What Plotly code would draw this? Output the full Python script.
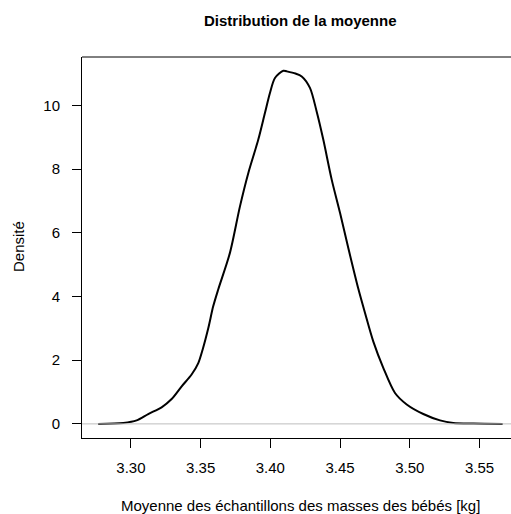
import plotly.graph_objects as go

# Density curve of sample means
mean_x = [3.2765, 3.2945, 3.3041, 3.3124, 3.3220, 3.3292, 3.3364, 3.3435, 3.3483, 3.3514,
          3.3555, 3.3590, 3.3626, 3.3710, 3.3782, 3.3842, 3.3913, 3.3961, 3.3997, 3.4033,
          3.4093, 3.4117, 3.4180, 3.4225, 3.4284, 3.4332, 3.4380, 3.4440, 3.4500, 3.4559,
          3.4631, 3.4679, 3.4738, 3.4810, 3.4894, 3.4978, 3.5097, 3.5217, 3.5312, 3.5456,
          3.5666]
density_y = [0.00, 0.03, 0.11, 0.31, 0.52, 0.78, 1.18, 1.55, 1.91, 2.33,
             3.01, 3.69, 4.22, 5.37, 6.83, 7.88, 8.92, 9.76, 10.39, 10.86,
             11.09, 11.07, 11.00, 10.91, 10.55, 9.81, 8.92, 7.67, 6.62, 5.52,
             4.24, 3.48, 2.59, 1.76, 0.97, 0.61, 0.31, 0.11, 0.03, 0.01,
             0.00]

x_ticks = [3.30, 3.35, 3.40, 3.45, 3.50, 3.55]
x_tick_labels = ["3.30", "3.35", "3.40", "3.45", "3.50", "3.55"]
y_ticks = [0, 2, 4, 6, 8, 10]

title = "Distribution de la moyenne"
x_title = "Moyenne des échantillons des masses des bébés [kg]"
y_title = "Densité"

FONT = "Liberation Sans, Arial, Helvetica, sans-serif"
W, H = 511, 514
L, T, B, R = 82, 57, 76, 0

x_range = [3.2649, 3.5726]
y_range = [-0.443, 11.52]

fig = go.Figure()
fig.add_trace(go.Scatter(x=mean_x, y=density_y, mode="lines",
                         line=dict(color="black", width=2, shape="spline", smoothing=0.8),
                         hoverinfo="skip", showlegend=False))
fig.add_trace(go.Scatter(x=x_range, y=[0, 0], mode="lines",
                         line=dict(color="#bebebe", width=1),
                         hoverinfo="skip", showlegend=False))

fig.update_layout(
    width=W, height=H,
    margin=dict(l=L, r=R, t=T, b=B),
    paper_bgcolor="white", plot_bgcolor="white",
    font=dict(family=FONT, size=15, color="black"),
    xaxis=dict(range=x_range, tickvals=x_ticks, ticktext=x_tick_labels,
               showgrid=False, zeroline=False, showline=True, linecolor="black", linewidth=1,
               ticks="outside", ticklen=9, tickcolor="black", tickwidth=1,
               ticklabelstandoff=7, tickfont=dict(size=15, color="black")),
    yaxis=dict(range=y_range, tickvals=y_ticks,
               showgrid=False, zeroline=False, showline=True, linecolor="black", linewidth=1,
               ticks="outside", ticklen=9, tickcolor="black", tickwidth=1,
               ticklabelstandoff=9, tickfont=dict(size=15, color="black")),
    shapes=[dict(type="line", xref="paper", yref="paper", x0=0, x1=1, y0=1, y1=1,
                 line=dict(color="black", width=1))],
    annotations=[
        dict(text="<b>" + title + "</b>", xref="paper", yref="paper",
             x=(300 - L) / (W - L - R), y=(H - 20 - B) / (H - T - B), yanchor="middle",
             showarrow=False, font=dict(size=15, family=FONT, color="black")),
        dict(text=x_title, xref="paper", yref="paper",
             x=(300 - L) / (W - L - R), y=(H - 505 - B) / (H - T - B), yanchor="middle",
             showarrow=False, font=dict(size=15, family=FONT, color="black")),
        dict(text=y_title, xref="paper", yref="paper", textangle=-90,
             x=(18 - L) / (W - L - R), y=(H - 247 - B) / (H - T - B),
             xanchor="center", yanchor="middle",
             showarrow=False, font=dict(size=15, family=FONT, color="black")),
    ],
)

fig.write_html("out.html")
